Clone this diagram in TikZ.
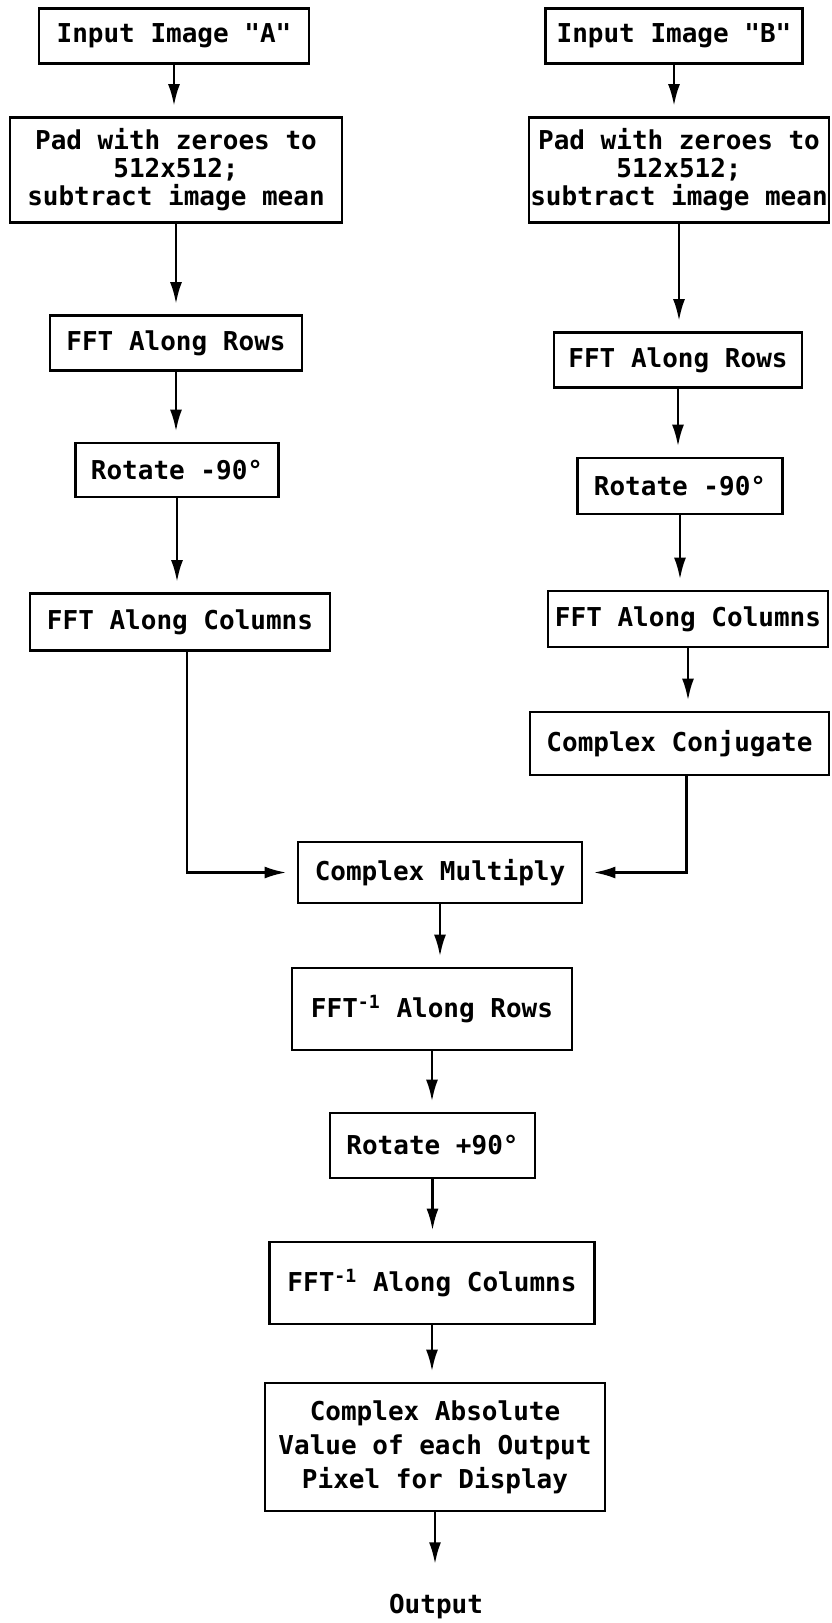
\documentclass[tikz,border=0pt]{standalone}
\usepackage{fontspec}
\setmonofont{DejaVu Sans Mono}
\usetikzlibrary{arrows.meta}

\tikzset{
  procbox/.style={draw, line width=1.4pt, align=center, inner sep=0pt,
    font=\ttfamily\bfseries\fontsize{13pt}{13.5pt}\selectfont},
  flowarrow/.style={line width=1.4pt, -{Latex[length=11pt,width=6pt]}, shorten >=5pt}
}

\begin{document}
\begin{tikzpicture}[x=0.5pt, y=-0.5pt]
        \useasboundingbox (0,0) rectangle (831,1623);

        % Image A branch
        \node[procbox, minimum width=135pt, minimum height=27.5pt] (inA) at (174,36) {Input Image "A"};
        \node[procbox, minimum width=166pt, minimum height=52.5pt,
              font=\ttfamily\bfseries\fontsize{13pt}{14pt}\selectfont] (padA) at (176,170) {Pad with zeroes to\\512x512;\\subtract image mean};
        \node[procbox, minimum width=126pt, minimum height=27.5pt] (rowsA) at (176,343) {FFT Along Rows};
        \node[procbox, minimum width=101.5pt, minimum height=27pt] (rotA) at (177,470) {Rotate -90°};
        \node[procbox, minimum width=150pt, minimum height=28.5pt] (colsA) at (180,622) {FFT Along Columns};

        % Image B branch
        \node[procbox, minimum width=128.5pt, minimum height=27.5pt] (inB) at (674,36) {Input Image "B"};
        \node[procbox, minimum width=150pt, minimum height=52.5pt,
              font=\ttfamily\bfseries\fontsize{13pt}{14pt}\selectfont] (padB) at (679,170) {Pad with zeroes to\\512x512;\\subtract image mean};
        \node[procbox, minimum width=124pt, minimum height=27.5pt] (rowsB) at (678,360) {FFT Along Rows};
        \node[procbox, minimum width=102.5pt, minimum height=28pt] (rotB) at (680,486) {Rotate -90°};
        \node[procbox, minimum width=140pt, minimum height=28pt] (colsB) at (688,619) {FFT Along Columns};
        \node[procbox, minimum width=149.5pt, minimum height=31.5pt] (conjB) at (679.5,743.5) {Complex Conjugate};

        % Common part
        \node[procbox, minimum width=142pt, minimum height=30.5pt] (mult) at (440,872.5) {Complex Multiply};
        \node[procbox, minimum width=140pt, minimum height=41pt] (irows) at (432,1009) {FFT\textsuperscript{-1} Along Rows};
        \node[procbox, minimum width=102.5pt, minimum height=32.5pt] (rotC) at (432.5,1145.5) {Rotate +90°};
        \node[procbox, minimum width=162.5pt, minimum height=41pt] (icols) at (432,1283) {FFT\textsuperscript{-1} Along Columns};
        \node[procbox, minimum width=170pt, minimum height=64pt,
              font=\ttfamily\bfseries\fontsize{13pt}{17pt}\selectfont] (absval) at (435,1447) {Complex Absolute\\Value of each Output\\Pixel for Display};
        \node[font=\ttfamily\bfseries\fontsize{13pt}{13.5pt}\selectfont, inner sep=0pt] (out) at (436,1607) {Output};

        % Arrows
        \draw[flowarrow] (inA.south) -- (inA.south |- padA.north);
        \draw[flowarrow] (padA.south) -- (padA.south |- rowsA.north);
        \draw[flowarrow] (rowsA.south) -- (rowsA.south |- rotA.north);
        \draw[flowarrow] (rotA.south) -- (rotA.south |- colsA.north);
        \draw[flowarrow] (inB.south) -- (inB.south |- padB.north);
        \draw[flowarrow] (padB.south) -- (padB.south |- rowsB.north);
        \draw[flowarrow] (rowsB.south) -- (rowsB.south |- rotB.north);
        \draw[flowarrow] (rotB.south) -- (rotB.south |- colsB.north);
        \draw[flowarrow] (colsB.south) -- (colsB.south |- conjB.north);
        \draw[flowarrow] ([xshift=3.5pt]colsA.south) |- (mult.west);
        \draw[flowarrow] ([xshift=3.5pt]conjB.south) |- (mult.east);
        \draw[flowarrow] (mult.south) -- (mult.south |- irows.north);
        \draw[flowarrow] (irows.south) -- (irows.south |- rotC.north);
        \draw[flowarrow] (rotC.south) -- (rotC.south |- icols.north);
        \draw[flowarrow] (icols.south) -- (icols.south |- absval.north);
        \draw[flowarrow, shorten >=15pt] (absval.south) -- (absval.south |- out.north);
    \end{tikzpicture}
\end{document}
